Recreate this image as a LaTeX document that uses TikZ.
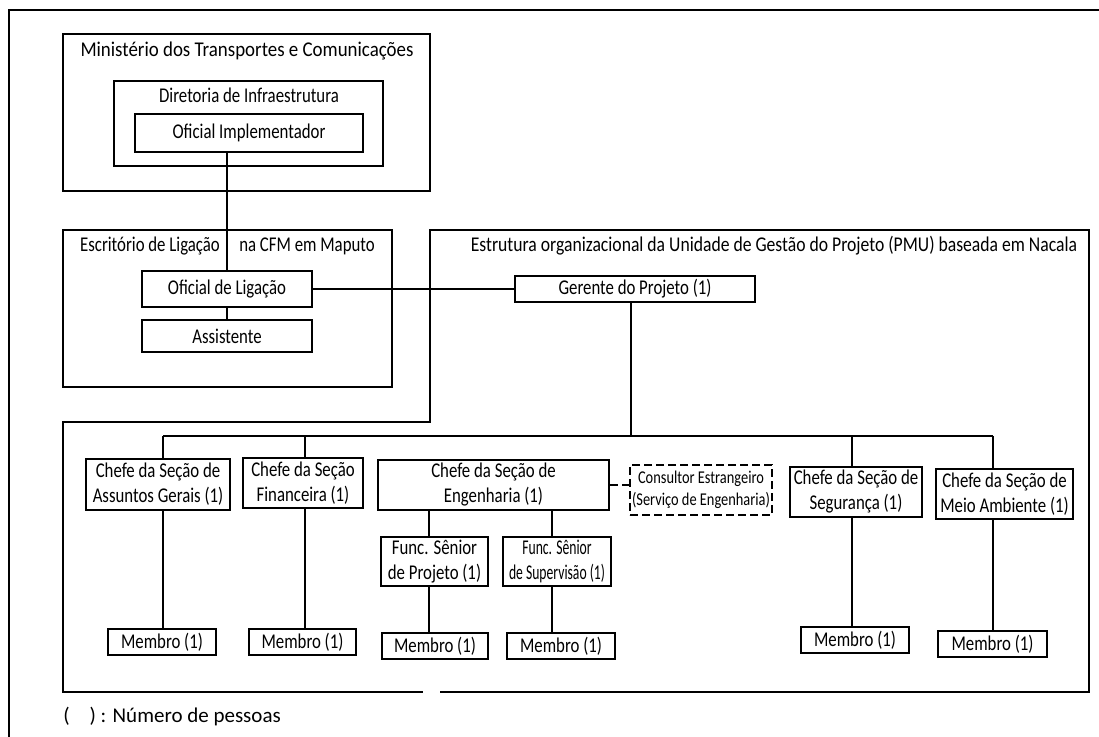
\documentclass[tikz,border=0pt]{standalone}
\usepackage{fontspec}
\setmainfont{Carlito}
\newfontfamily\fstd{Carlito}[FakeStretch=0.8]
\newfontfamily\fmin{Carlito}[FakeStretch=0.9]
\newfontfamily\fpmu{Carlito}[FakeStretch=0.84]
\newfontfamily\fsup{Carlito}[FakeStretch=0.65]
% box node from its corners (x1,y1)-(x2,y2), in pixel units
\newcommand\obox[7][]{%
  \node[bx,#1,
    minimum width={(#5-#3)*0.75pt}, minimum height={(#6-#4)*0.75pt}]
    (#2) at ({(#3+#5)/2},{(#4+#6)/2}) {#7};}
\begin{document}
\begin{tikzpicture}[x=0.75pt,y=-0.75pt,
  ln/.style={line width=1.5pt},
  bx/.style={draw, line width=1.5pt, inner sep=0pt, align=center,
    font=\fontsize{15.75}{18.75}\selectfont\fstd},
  dbx/.style={dash pattern=on 6pt off 3pt,
    font=\fontsize{13.5}{16.3}\selectfont\fstd},
  ttl/.style={anchor=base, inner sep=0pt,
    font=\fontsize{15.75}{18.75}\selectfont\fstd},
]
\useasboundingbox (0,0) rectangle (1099,737);

% page frame
\draw[ln] (1099,10) -- (9,10) -- (9,737);

% ministry
\obox{min}{63}{34}{430}{191}{}
\node[ttl, font=\fontsize{15.75}{18.75}\selectfont\fmin] (minT) at (247,57) {Ministério dos Transportes e Comunicações};
\obox{dir}{114}{81}{383}{166}{}
\node[ttl] (dirT) at (249,103) {Diretoria de Infraestrutura};
\obox{oi}{135}{114}{363}{152}{Oficial Implementador}

% liaison office
\obox{esc}{63}{230}{392}{387}{}
\node[ttl] (escT1) at (150,252) {Escritório de Ligação};
\node[ttl] (escT2) at (307,252) {na CFM em Maputo};
\obox{ol}{142}{271}{312}{307}{Oficial de Ligação}
\obox{as}{142}{320}{312}{352}{Assistente}

% PMU outline
\draw[ln] (440,692) -- (1089,692) -- (1089,230) -- (430,230) -- (430,422)
  -- (63,422) -- (63,692) -- (423,692);
\node[ttl, font=\fontsize{15.75}{18.75}\selectfont\fpmu] (pmuT) at (774,252) {Estrutura organizacional da Unidade de Gestão do Projeto (PMU) baseada em Nacala};
\obox{ger}{515}{276}{755}{302}{Gerente do Projeto (1)}

% section heads
\obox{ag}{86}{459}{230}{510}{Chefe da Seção de\\Assuntos Gerais (1)}
\obox{fin}{243}{458}{363}{508}{Chefe da Seção\\Financeira (1)}
\obox{eng}{378}{460}{609}{510}{Chefe da Seção de\\Engenharia (1)}
\obox[dbx]{cons}{630}{465}{772}{515}{Consultor Estrangeiro\\(Serviço de Engenharia)}
\obox{seg}{790}{467}{922}{517}{Chefe da Seção de\\Segurança (1)}
\obox{ma}{936}{469}{1073}{519}{Chefe da Seção de\\Meio Ambiente (1)}
\obox{fsp}{381}{537}{488}{586}{Func. Sênior\\de Projeto (1)}
\obox[font=\fontsize{15.75}{18.75}\selectfont\fsup]{fss}{503}{537}{611}{586}{Func. Sênior\\de Supervisão (1)}

% members
\obox{agm}{108}{629}{216}{655}{Membro (1)}
\obox{finm}{249}{629}{356}{655}{Membro (1)}
\obox{fspm}{382}{633}{488}{659}{Membro (1)}
\obox{fssm}{507}{633}{615}{659}{Membro (1)}
\obox{segm}{801}{627}{909}{653}{Membro (1)}
\obox{mam}{938}{631}{1047}{657}{Membro (1)}

% connectors, upper part
\draw[ln] (oi.south -| ol.north) -- (ol.north);
\draw[ln] (ol.south) -- (as.north);
\draw[ln] (ol.east) -- (ger.west);

% bus below the project manager
\coordinate (bg) at (631,436);
\coordinate (b1) at (163,436);
\coordinate (b2) at (305,436);
\coordinate (b5) at (852,436);
\coordinate (b6) at (993,436);
\draw[ln] (ger.south -| bg) -- (bg);
\draw[ln] (b1) -- (b6);
\draw[ln] (b1) -- (b1 |- ag.north);
\draw[ln] (b1 |- ag.south) -- (b1 |- agm.north);
\draw[ln] (b2) -- (b2 |- fin.north);
\draw[ln] (b2 |- fin.south) -- (b2 |- finm.north);
\draw[ln] (b5) -- (b5 |- seg.north);
\draw[ln] (b5 |- seg.south) -- (b5 |- segm.north);
\draw[ln] (b6) -- (b6 |- ma.north);
\draw[ln] (b6 |- ma.south) -- (b6 |- mam.north);

% engineering branch
\coordinate (e1) at (429,586);
\coordinate (e2) at (552,586);
\draw[ln] (e1 |- eng.south) -- (e1 |- fsp.north);
\draw[ln] (e1 |- fsp.south) -- (e1 |- fspm.north);
\draw[ln] (e2 |- eng.south) -- (e2 |- fss.north);
\draw[ln] (e2 |- fss.south) -- (e2 |- fssm.north);
\draw[ln, dash pattern=on 6pt off 3pt] (eng.east) -- (eng.east -| cons.west);

% legend
\node[anchor=base west, inner sep=0pt, font=\fontsize{15.75}{18.75}\selectfont] (leg) at (63,722) {(\hspace{15pt}) : Número de pessoas};
\end{tikzpicture}
\end{document}
